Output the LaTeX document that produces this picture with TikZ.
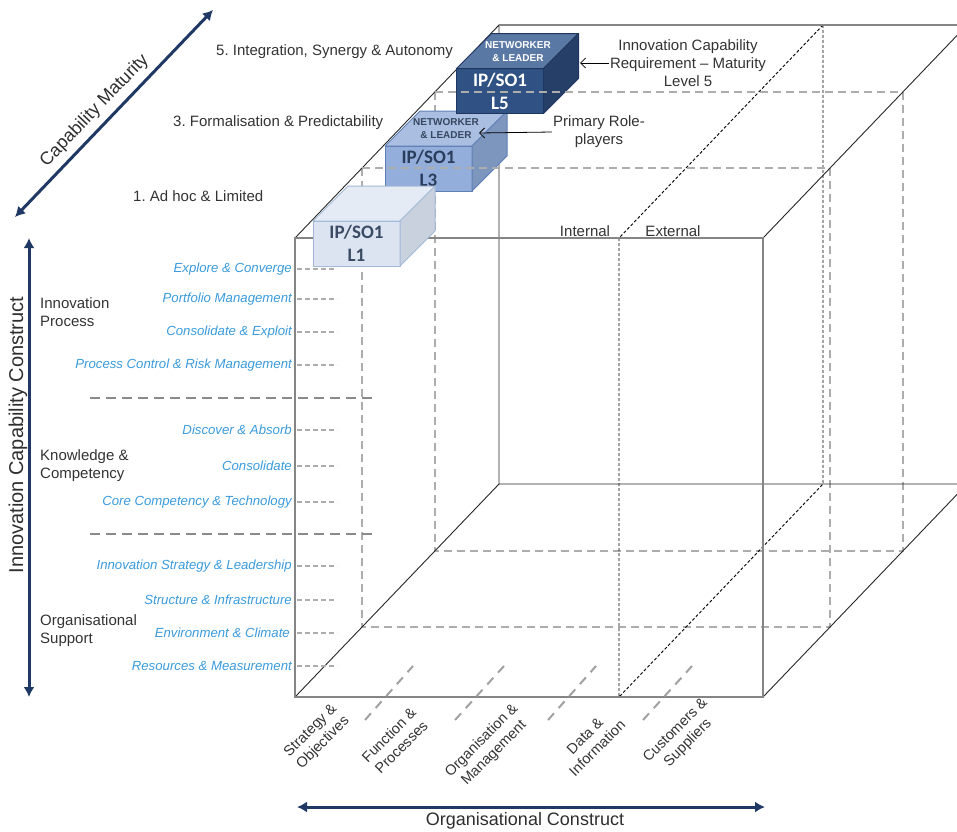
\documentclass[tikz,border=0pt]{standalone}
\usepackage{fontspec}
\setmainfont{Liberation Sans}
\newfontfamily\boxfont{Carlito}
\usetikzlibrary{arrows.meta}
\frenchspacing
\definecolor{navy}{HTML}{1F3864}
\definecolor{itemblue}{HTML}{3A9BDC}
\definecolor{txt}{HTML}{333333}
\definecolor{edgegray}{HTML}{858585}
\definecolor{gridgray}{HTML}{ADADAD}
\definecolor{sepgray}{HTML}{8A8A8A}
% box colours: f front, u top, r right, b border, t text
\definecolor{cAf}{HTML}{DCE4F2}\definecolor{cAu}{HTML}{E5EBF5}\definecolor{cAr}{HTML}{C9D1DE}\definecolor{cAb}{HTML}{A4B8D8}\definecolor{cAt}{HTML}{3B4B63}
\definecolor{cBf}{HTML}{93AEDA}\definecolor{cBu}{HTML}{A9BEE0}\definecolor{cBr}{HTML}{7C96BE}\definecolor{cBb}{HTML}{5F80B6}\definecolor{cBt}{HTML}{2A3D5C}
\definecolor{cCf}{HTML}{2F5183}\definecolor{cCu}{HTML}{5A78A4}\definecolor{cCr}{HTML}{263F69}\definecolor{cCb}{HTML}{1F375E}\definecolor{cCt}{HTML}{FFFFFF}
\newcommand\cubebox[4]{%
  \node[boxface, fill=#3f, draw=#3b, text=#3t] (#1) at (#2) {#4};
  \filldraw[fill=#3u, draw=#3b, faceline] (#1.north west) -- ++(35,-35) -- ++(87,0) -- (#1.north east) -- cycle;
  \filldraw[fill=#3r, draw=#3b, faceline] (#1.north east) -- ++(35,-35) -- ++(0,45) -- (#1.south east) -- cycle;
}
\begin{document}
\begin{tikzpicture}[x=1pt,y=-1pt,
  frontline/.style={draw=edgegray, line width=1.8pt},
  backline/.style={draw=edgegray, line width=1.6pt},
  thinline/.style={draw=black!85, line width=0.9pt},
  gridline/.style={draw=gridgray, line width=1.1pt, dash pattern=on 8pt off 5pt},
  divline/.style={draw=black, line width=0.9pt, dash pattern=on 3pt off 2pt},
  sepline/.style={draw=sepgray, line width=1.8pt, dash pattern=on 10pt off 6pt},
  tickline/.style={draw=gridgray, line width=1.4pt, dash pattern=on 5pt off 3pt},
  coldash/.style={draw=sepgray!80, line width=2pt, dash pattern=on 9pt off 7pt},
  axisarrow/.style={draw=navy, line width=3pt, {Latex[length=10pt,width=11pt]}-{Latex[length=10pt,width=11pt]}},
  ptr/.style={draw=black, line width=0.8pt, -{Straight Barb[length=5pt,width=10pt]}},
  boxface/.style={rectangle, minimum width=87pt, minimum height=45pt, inner sep=0pt, outer sep=0pt, line width=1pt, align=center, font=\boxfont\bfseries\fontsize{19}{23}\selectfont},
  faceline/.style={line width=1pt, line join=round},
  nwtext/.style={align=center, inner sep=0pt, font=\bfseries\fontsize{10}{13}\selectfont},
  lvl/.style={font=\fontsize{15}{18}\selectfont, text=txt, inner sep=1pt},
  item/.style={font=\fontsize{13.2}{16}\selectfont\itshape, text=itemblue, anchor=east, inner sep=0pt},
  grp/.style={font=\fontsize{15}{18}\selectfont, text=txt, align=left, anchor=west, inner sep=0pt},
  col/.style={font=\fontsize{14.5}{17.5}\selectfont, text=txt, align=center, rotate=45, inner sep=0pt},
  axislabel/.style={font=\fontsize{18}{21}\selectfont, text=txt!90!black, inner sep=1pt}
]
\useasboundingbox (0,0) rectangle (957,831);
\clip (0,0) rectangle (957,831);

% cube corners
\coordinate (F1) at (295,238); \coordinate (F2) at (763,238);
\coordinate (F3) at (763,697); \coordinate (F4) at (295,697);
\coordinate (B1) at (499,25);  \coordinate (B2) at (967,25);
\coordinate (B3) at (967,484); \coordinate (B4) at (499,484);
% intermediate depth planes
\coordinate (P1a) at (362,168); \coordinate (P1b) at (830,168);
\coordinate (P1c) at (830,627); \coordinate (P1d) at (362,627);
\coordinate (P2a) at (435,92);  \coordinate (P2b) at (903,92);
\coordinate (P2c) at (903,551); \coordinate (P2d) at (435,551);
% internal / external divider
\coordinate (D1) at (619,238); \coordinate (D2) at (619,697);
\coordinate (D3) at (823,25);  \coordinate (D4) at (823,484);

% dashed planes (hidden parts)
\draw[gridline] (P1a) -- (P1d) -- (P1c) -- (P1b);
\draw[gridline] (P2a) -- (P2d) -- (P2c) -- (P2b);
\draw[divline] (D3) -- (D1) -- (D2) -- (D4) -- cycle;

% solid cube edges
\draw[thinline] (F1) -- (B1) -- (B4) -- (B3);
\draw[thinline] (F4) -- (B4);
\draw[thinline] (F2) -- (B2);
\draw[thinline] (F3) -- (B3);
\draw[backline] (B1) -- (B2);
\draw[frontline] (F1) rectangle (F3);

% column separators on the floor
\draw[coldash] (365,720) -- (413,666);
\draw[coldash] (455,720) -- (504,666);
\draw[coldash] (548,720) -- (596,666);
\draw[coldash] (643,720) -- (692,666);

% group separators
\draw[sepline] (90,398) -- (375,398);
\draw[sepline] (90,534) -- (375,534);

% maturity boxes L3, L5
\cubebox{b3}{428.5,168.5}{cB}{IP/SO1\\L3}
\cubebox{b5}{500,91}{cC}{IP/SO1\\L5}
\node[nwtext, text=cBt!85!gray] (n3) at (446,129) {NETWORKER\\\& LEADER};
\node[nwtext, text=white] (n5) at (518,52) {NETWORKER\\\& LEADER};

% visible top edges of the planes
\draw[gridline] (P1a) -- (P1b);
\draw[gridline] (P2a) -- (P2b);

% maturity box L1
\cubebox{b1}{356.5,243.5}{cA}{IP/SO1\\L1}

% maturity level labels
\node[lvl, anchor=west] (lv5) at (215,52) {5. Integration, Synergy \& Autonomy};
\node[lvl, anchor=west] (lv3) at (172,123) {3. Formalisation \& Predictability};
\node[lvl, anchor=west] (lv1) at (132,196) {1. Ad hoc \& Limited};

% right side annotations
\node[lvl, align=center] (req) at (688,63) {Innovation Capability\\Requirement -- Maturity\\Level 5};
\coordinate (a5) at (580,63);
\draw[ptr] (req.west) -- (a5);
\node[lvl, align=center] (prim) at (599,132) {Primary Role-\\players};
\coordinate (a3) at (479,133);
\draw[ptr] (prim.west) -- (a3);

\node[lvl] (int) at (585,231) {Internal};
\node[lvl] (ext) at (673,231) {External};

% group labels
\node[grp] (g1) at (40,312) {Innovation\\Process};
\node[grp] (g2) at (40,466) {Knowledge \&\\Competency};
\node[grp] (g3) at (40,631) {Organisational\\Support};

% item labels
\node[item] (i1) at (292,269) {Explore \& Converge};
\node[item] (i2) at (292,299) {Portfolio Management};
\node[item] (i3) at (292,332) {Consolidate \& Exploit};
\node[item] (i4) at (292,365) {Process Control \& Risk Management};
\node[item] (i5) at (292,430) {Discover \& Absorb};
\node[item] (i6) at (292,466) {Consolidate};
\node[item] (i7) at (292,502) {Core Competency \& Technology};
\node[item] (i8) at (292,566) {Innovation Strategy \& Leadership};
\node[item] (i9) at (292,600) {Structure \& Infrastructure};
\node[item] (i10) at (290,633) {Environment \& Climate};
\node[item] (i11) at (292,666) {Resources \& Measurement};
\foreach \n in {1,...,11} \draw[tickline] (i\n.east -| F1) ++(2,0) -- ++(40,0);

% column labels
\node[col] (c1) at (317,737) {Strategy \&\\Objectives};
\node[col] (c2) at (395,741) {Function \&\\Processes};
\node[col] (c3) at (488,747) {Organisation \&\\Management};
\node[col] (c4) at (591,742) {Data \&\\Information};
\node[col] (c5) at (682,737) {Customers \&\\Suppliers};

% axes
\coordinate (cm1) at (15,217); \coordinate (cm2) at (213,10);
\draw[axisarrow] (cm1) -- node[pos=0.46, sloped, above=5pt, axislabel] (cmlab) {Capability Maturity} (cm2);
\coordinate (ic1) at (29,697); \coordinate (ic2) at (29,238);
\draw[axisarrow] (ic1) -- (ic2);
\node[axislabel, rotate=90, font=\fontsize{20}{24}\selectfont] (iclab) at (18,435) {Innovation Capability Construct};
\coordinate (oc1) at (297,807); \coordinate (oc2) at (765,807);
\draw[axisarrow] (oc1) -- (oc2);
\node[axislabel] (oclab) at (525,821) {Organisational Construct};
\end{tikzpicture}
\end{document}
